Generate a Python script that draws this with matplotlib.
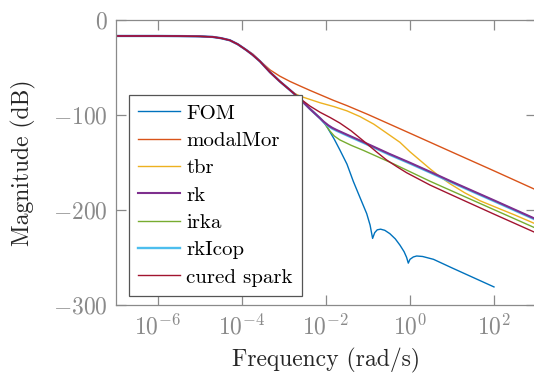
import numpy as np
import matplotlib
matplotlib.use("Agg")
from matplotlib import pyplot as plt
from matplotlib.ticker import FuncFormatter, FixedLocator

plt.rcParams['font.family'] = 'serif'
plt.rcParams['font.serif'] = ['cmr10']
plt.rcParams['mathtext.fontset'] = 'cm'
plt.rcParams['axes.formatter.use_mathtext'] = True

# log10 of frequency and magnitude (dB)
# shared start of every curve
common_lw = [-7, -6, -5.5, -5.0, -4.7, -4.5, -4.29, -4.1, -3.9]
common_mag = [-17.3, -17.3, -17.4, -17.7, -18.3, -19.6, -21.8, -26, -32]
mid_lw = [-3.75, -3.57, -3.33, -3.1, -2.86]
mid_mag = [-37, -44, -55.5, -65, -74]
low_lw = [-2.62, -2.38, -2.14]
low_mag = [-83.5, -94, -103.8]

fom_lw = [-2.0, -1.9, -1.8, -1.67, -1.5, -1.35, -1.2, -1.03, -0.95, -0.89, -0.84,
          -0.78, -0.7, -0.6, -0.48, -0.35, -0.24, -0.14, -0.08, -0.04, 0.0, 0.08,
          0.16, 0.3, 0.56, 1.0, 1.5, 2.0]
fom_mag = [-111, -118.5, -126, -137, -152, -170, -186, -204, -216, -230, -224,
           -221, -220.3, -221.5, -225, -230.5, -237, -244, -250, -256, -252, -249.5,
           -248.5, -249, -252, -261, -271, -281]

modal_lw = [-3.75, -3.57, -3.33, -3.1, -2.86, -2.62, -2.38, -2.14, -1.83, -1.5,
            -1.0, 0, 1, 2, 2.95]
modal_mag = [-36, -43.5, -53, -59.5, -65, -69.8, -74.5, -79, -84.8, -90.5,
             -99.8, -119.5, -139.3, -159, -178]

tbr_lw = [-2.75, -2.62, -2.38, -2.14, -1.81, -1.5, -1.19, -0.86, -0.55, -0.24, 0,
          0.24, 0.48, 0.71, 0.95, 1.3, 1.67, 2.0, 2.5, 2.95]
tbr_mag = [-77.5, -80.5, -84, -87.5, -91.5, -96, -102, -110, -119.5, -129, -139,
           -148, -157, -165, -172.5, -182, -190.5, -196.5, -205.5, -214]

rk_lw = [-2.05, -1.95, -1.85, -1.75, -1.5, -1.12, -0.5, 0, 0.48, 1, 2, 2.95]
rk_mag = [-107.5, -111, -113.8, -116, -121, -128.5, -141, -150.5, -160, -170.5, -190, -208.8]

rkicop_lw = [-2.05, -1.95, -1.85, -1.75, -1.5, -1.12, -0.5, 0, 0.48, 1, 2, 2.95]
rkicop_mag = [-108, -111.8, -114.6, -116.8, -121.8, -129.3, -141.8, -151.3, -160.8, -171.3, -190.8, -209.6]

irka_lw = [-2.05, -2.0, -1.9, -1.8, -1.67, -1.4, -1.11, -0.4, 0.48, 1.5, 2.95]
irka_mag = [-108, -111.5, -117.5, -122.5, -126.5, -132.2, -137.5, -151.5, -170, -190, -218.4]

cured_lw = [-2.79, -2.62, -2.38, -2.14, -1.9, -1.67, -1.4, -1.11, -0.8, -0.56, -0.3,
            -0.08, 0.2, 0.48, 1, 2, 2.95]
cured_mag = [-76.5, -83, -91, -97.5, -103, -108.8, -117, -127.5, -139, -147.5, -155,
             -161, -167.5, -174, -184.5, -204.5, -223.2]

names = ["FOM", "modalMor", "tbr", "rk", "irka", "rkIcop", "cured spark"]
colors = ["#0072BD", "#D95319", "#EDB120", "#7E2F8E", "#77AC30", "#4DBEEE", "#A2142F"]
widths = [1.0, 1.0, 1.0, 1.5, 1.0, 1.7, 1.0]

series = [
    (common_lw + mid_lw + low_lw + fom_lw, common_mag + mid_mag + low_mag + fom_mag),
    (common_lw + modal_lw, common_mag + modal_mag),
    (common_lw + mid_lw + tbr_lw, common_mag + mid_mag + tbr_mag),
    (common_lw + mid_lw + low_lw + rk_lw, common_mag + mid_mag + low_mag + rk_mag),
    (common_lw + mid_lw + low_lw + irka_lw, common_mag + mid_mag + low_mag + irka_mag),
    (common_lw + mid_lw + low_lw + rkicop_lw, common_mag + mid_mag + low_mag + rkicop_mag),
    (common_lw + mid_lw + cured_lw, common_mag + mid_mag + cured_mag),
]

fig = plt.figure(figsize=(5.34, 3.76), dpi=100)
ax = fig.add_axes([0.2172, 0.1888, 0.7865, 0.7593])

# draw order so rk sits on top of rkIcop, cured spark on top of all
order = [0, 1, 2, 4, 5, 3, 6]
lines = {}
for i in order:
    lw, mag = series[i]
    lines[i], = ax.semilogx(10.0 ** np.array(lw), mag, color=colors[i],
                            lw=widths[i], label=names[i])

ax.set_xlim(1e-7, 1e3)
ax.set_ylim(-300, 0)
ax.xaxis.set_major_locator(FixedLocator([1e-6, 1e-4, 1e-2, 1e0, 1e2]))
ax.xaxis.set_minor_locator(FixedLocator([]))
ax.yaxis.set_major_locator(FixedLocator([-300, -200, -100, 0]))
ax.xaxis.set_major_formatter(FuncFormatter(lambda v, p: r"$10^{%d}$" % round(np.log10(v))))
ax.yaxis.set_major_formatter(FuncFormatter(lambda v, p: r"$%d$" % v))

gray = "#8a8a8a"
for s in ax.spines.values():
    s.set_color(gray)
    s.set_linewidth(0.9)
ax.tick_params(which="both", direction="in", top=True, right=True,
               length=7, width=0.9, color=gray, labelcolor=gray, labelsize=17)
ax.tick_params(axis="x", pad=7)
ax.tick_params(axis="y", pad=6)

ax.set_xlabel("Frequency (rad/s)", fontsize=17, color="#262626", labelpad=6)
ax.set_ylabel("Magnitude (dB)", fontsize=17, color="#262626", labelpad=12)

leg = ax.legend([lines[i] for i in range(7)], names, loc="lower left",
                bbox_to_anchor=(0.031, 0.031), borderaxespad=0, fontsize=15,
                fancybox=False, framealpha=1, edgecolor="#555555",
                handlelength=2.0, handletextpad=0.3, labelspacing=0.42,
                borderpad=0.45)
leg.get_frame().set_linewidth(0.9)

fig.savefig("out.png", dpi=100)
